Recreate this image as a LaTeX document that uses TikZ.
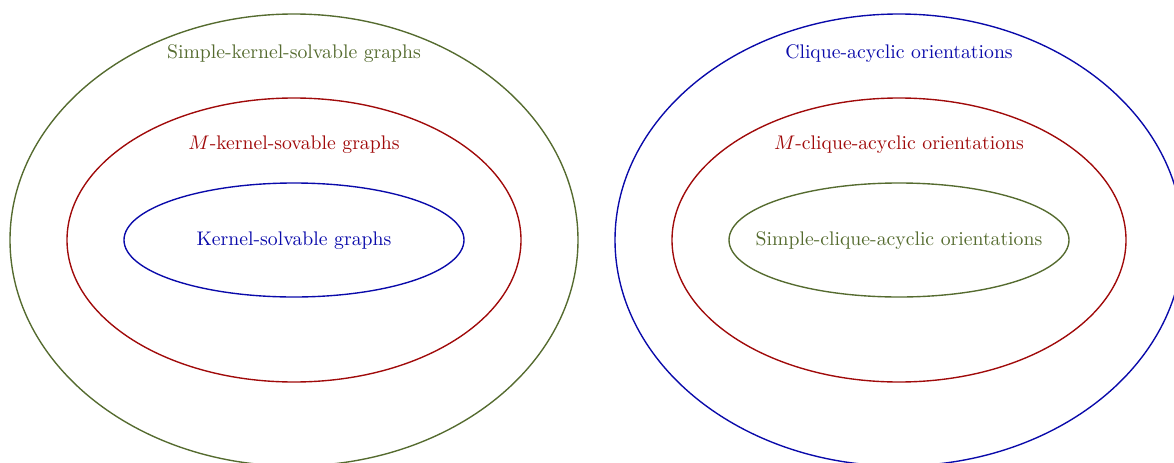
\documentclass[tikz,border=0pt]{standalone}
\definecolor{cgreen}{RGB}{85,107,47}
\definecolor{cred}{RGB}{160,10,10}
\definecolor{cblue}{RGB}{10,10,170}
\tikzset{
  ring/.style={line width=0.7pt},
  lbl/.style={inner sep=0pt, anchor=center}
}
\begin{document}
\begin{tikzpicture}[x=0.5073pt, y=-0.5073pt]
\useasboundingbox (0,0) rectangle (1174,463);
\clip (0,0) rectangle (1174,463);
% left diagram
\coordinate (L) at (294,240);
\draw[ring, cgreen] (L) ellipse [x radius=284, y radius=226];
\draw[ring, cred]   (L) ellipse [x radius=227, y radius=142];
\draw[ring, cblue]  (L) ellipse [x radius=170, y radius=57];
\node[lbl, text=cgreen] (lo) at (294,54) {Simple-kernel-solvable graphs};
\node[lbl, text=cred]   (lm) at (294,145) {$M$-kernel-sovable graphs};
\node[lbl, text=cblue]  (li) at (294,241) {Kernel-solvable graphs};
% right diagram
\coordinate (R) at (899,240);
\draw[ring, cblue]  (R) ellipse [x radius=284, y radius=226];
\draw[ring, cred]   (R) ellipse [x radius=227, y radius=142];
\draw[ring, cgreen] (R) ellipse [x radius=170, y radius=57];
\node[lbl, text=cblue]  (ro) at (899,54) {Clique-acyclic orientations};
\node[lbl, text=cred]   (rm) at (899,145) {$M$-clique-acyclic orientations};
\node[lbl, text=cgreen] (ri) at (899,241) {Simple-clique-acyclic orientations};
\end{tikzpicture}
\end{document}
